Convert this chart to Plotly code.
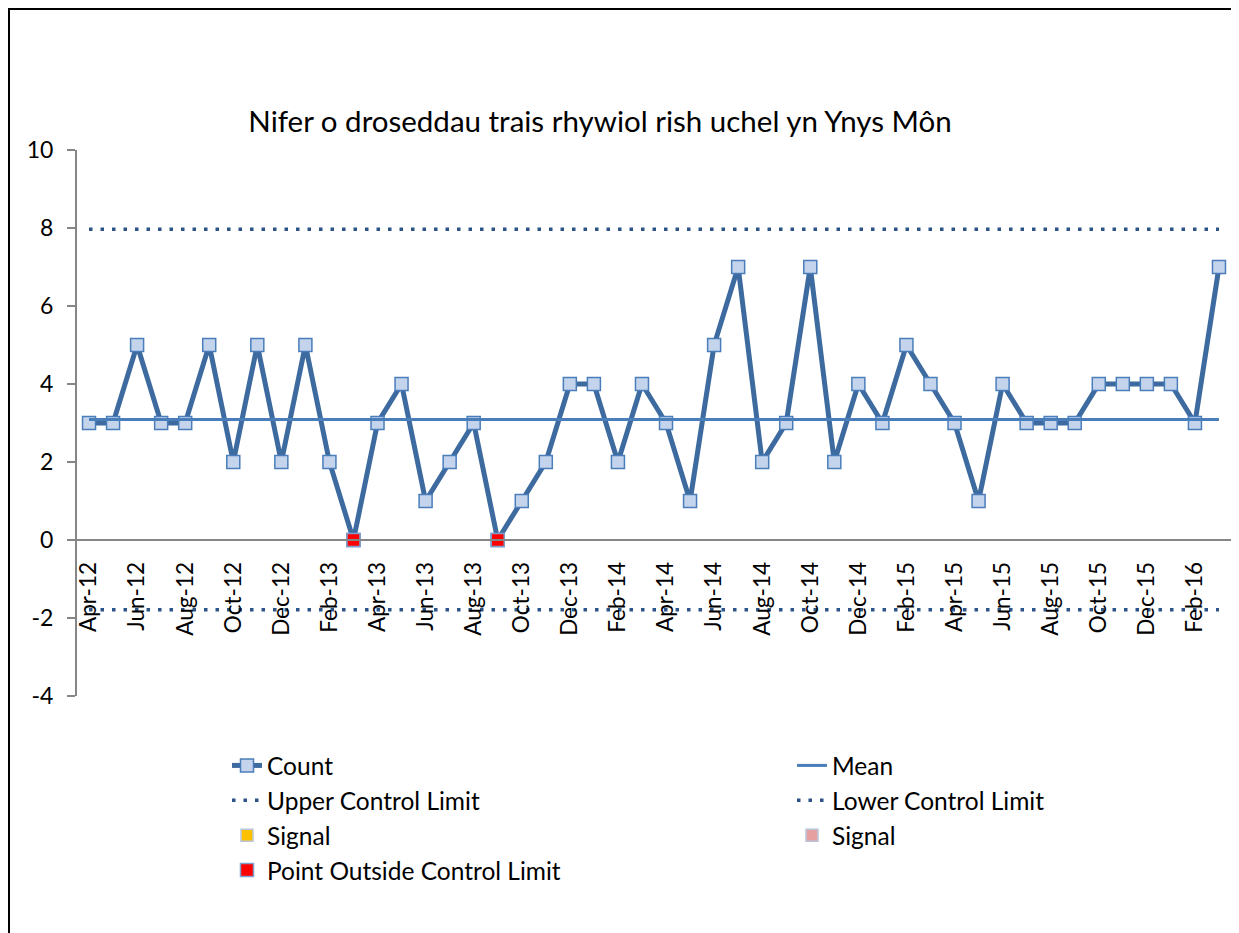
import plotly.graph_objects as go

# monthly counts, Apr-12 .. Mar-16
months = [
    "Apr-12", "May-12", "Jun-12", "Jul-12", "Aug-12", "Sep-12", "Oct-12", "Nov-12", "Dec-12",
    "Jan-13", "Feb-13", "Mar-13", "Apr-13", "May-13", "Jun-13", "Jul-13", "Aug-13", "Sep-13",
    "Oct-13", "Nov-13", "Dec-13", "Jan-14", "Feb-14", "Mar-14", "Apr-14", "May-14", "Jun-14",
    "Jul-14", "Aug-14", "Sep-14", "Oct-14", "Nov-14", "Dec-14", "Jan-15", "Feb-15", "Mar-15",
    "Apr-15", "May-15", "Jun-15", "Jul-15", "Aug-15", "Sep-15", "Oct-15", "Nov-15", "Dec-15",
    "Jan-16", "Feb-16", "Mar-16",
]
counts = [
    3, 3, 5, 3, 3, 5, 2, 5, 2, 5, 2, 0,
    3, 4, 1, 2, 3, 0, 1, 2, 4, 4, 2, 4,
    3, 1, 5, 7, 2, 3, 7, 2, 4, 3, 5, 4,
    3, 1, 4, 3, 3, 3, 4, 4, 4, 4, 3, 7,
]
mean_value = 3.09
upper_limit = 7.97
lower_limit = -1.79
outside_months = ["Mar-13", "Sep-13"]
x_tick_labels = months[::2]
y_ticks = [-4, -2, 0, 2, 4, 6, 8, 10]
y_tick_labels = ["-4", "-2", "0", "2", "4", "6", "8", "10"]

title = "Nifer o droseddau trais rhywiol rish uchel yn Ynys Môn"

FONT = "Lato"
# the page body has an 8px margin, so work in page pixels and shift
OFF = 8
W, H = 1239 - OFF, 933 - OFF
plot_left, plot_right, plot_top, plot_bottom = 77, 1231, 150, 696
ML, MT = plot_left - OFF, plot_top - OFF
MR = W - (plot_right - OFF)
MB = H - (plot_bottom - OFF)
PW = W - ML - MR
PH = H - MT - MB


def px_x(p):
    return (p - OFF - ML) / PW


def px_y(p):
    return (H - MB - (p - OFF)) / PH


outside_vals = [c if m in outside_months else None for m, c in zip(months, counts)]

fig = go.Figure()

fig.add_trace(go.Scatter(
    x=months, y=counts, mode="lines+markers", name="Count",
    line=dict(color="#3d6a9f", width=5),
    marker=dict(symbol="square", size=13, color="#c4d4ec",
                line=dict(color="#4a7ebb", width=1.5)),
))
fig.add_trace(go.Scatter(
    x=months, y=[mean_value] * len(months), mode="lines", name="Mean",
    line=dict(color="#4a7ebb", width=3),
))
fig.add_trace(go.Scatter(
    x=months, y=[upper_limit] * len(months), mode="lines", name="Upper Control Limit",
    line=dict(color="#2c5387", width=3.5, dash="3.5px,8px"),
))
fig.add_trace(go.Scatter(
    x=months, y=[lower_limit] * len(months), mode="lines", name="Lower Control Limit",
    line=dict(color="#2c5387", width=3.5, dash="3.5px,8px"),
))
fig.add_trace(go.Scatter(
    x=[None], y=[None], mode="markers", name="Signal",
    marker=dict(symbol="square", size=12, color="#ffc000",
                line=dict(color="#b9c6d9", width=1.5)),
))
fig.add_trace(go.Scatter(
    x=[None], y=[None], mode="markers", name="Signal ",
    marker=dict(symbol="square", size=12, color="#e6a0a0",
                line=dict(color="#b9c6d9", width=1.5)),
))
fig.add_trace(go.Scatter(
    x=months, y=outside_vals, mode="markers", name="Point Outside Control Limit",
    marker=dict(symbol="square", size=13, color="#ff0000",
                line=dict(color="#7f9fcf", width=1.5)),
))

# outer chart frame (bottom edge is off-page)
fig.add_shape(type="rect", xref="paper", yref="paper",
              x0=px_x(OFF + 1), x1=px_x(1237), y0=px_y(960), y1=px_y(OFF + 1),
              line=dict(color="black", width=2), layer="below")

fig.update_layout(
    width=W, height=H,
    margin=dict(l=ML, r=MR, t=MT, b=MB, autoexpand=False),
    paper_bgcolor="white", plot_bgcolor="white",
    font=dict(family=FONT, size=22, color="black"),
    title=dict(text=title, font=dict(family=FONT, size=29.5, color="black"),
               xref="paper", x=px_x(600), xanchor="center",
               yref="container", y=1 - (122 - OFF) / H, yanchor="middle"),
    xaxis=dict(type="category", range=[-0.5, len(months) - 0.5],
               anchor="free", position=4 / 14,
               showline=True, linecolor="#868686", linewidth=2,
               ticks="", tickangle=-90, tickmode="array",
               tickvals=x_tick_labels, ticktext=x_tick_labels,
               ticklabelstandoff=12,
               tickfont=dict(size=22.5), showgrid=False, zeroline=False),
    yaxis=dict(range=[-4, 10], tickmode="array", tickvals=y_ticks, ticktext=y_tick_labels,
               showline=True, linecolor="#868686", linewidth=2,
               ticks="outside", ticklen=8, tickcolor="#868686", tickwidth=2,
               ticklabelstandoff=9,
               tickfont=dict(size=23), showgrid=False, zeroline=False),
    showlegend=True,
    legend=dict(orientation="h", x=px_x(227), xanchor="left",
                y=px_y(743), yanchor="top", entrywidth=520, entrywidthmode="pixels",
                font=dict(family=FONT, size=24.5), bgcolor="rgba(0,0,0,0)"),
)

fig.write_html("out.html")
